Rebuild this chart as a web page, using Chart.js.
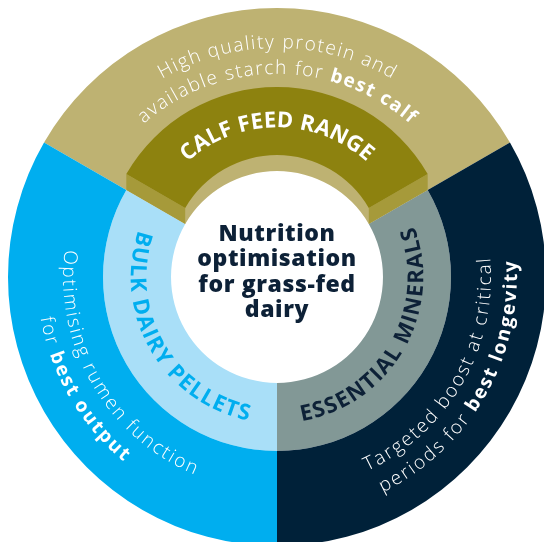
<!DOCTYPE html>
<html>
<head>
<meta charset="utf-8">
<script src="https://cdn.jsdelivr.net/npm/chart.js@4.4.1/dist/chart.umd.min.js"></script>
<style>
  html, body { margin: 0; padding: 0; background: #fff; overflow: hidden; }
  #wheel { position: absolute; left: 0; top: 0; }
</style>
</head>
<body>
<canvas id="wheel" width="554" height="554"></canvas>
<script>
// ---- data ----
const segments = ['Calf Feed Range', 'Essential Minerals', 'Bulk Dairy Pellets'];
const segmentShares = [1, 1, 1];
const ringLabels = ['CALF FEED RANGE', 'ESSENTIAL MINERALS', 'BULK DAIRY PELLETS'];
// each line is a list of [text, bold]
const benefitLine1 = [
    [['High quality protein and', 0]],
    [['Targeted boost at critical', 0]],
    [['Optimising rumen function', 0]]
];
const benefitLine2 = [
    [['available starch for ', 0], ['best calf', 1]],
    [['periods for ', 0], ['best longevity', 1]],
    [['for ', 0], ['best output', 1]]
];
const centreTitle = ['Nutrition', 'optimisation', 'for grass-fed', 'dairy'];

// ---- styles ----
const outerColours = ['#BEB272', '#002139', '#00AEEF'];
const innerColours = ['#BEB272', '#829896', '#A9DFF8'];
const faceColours = ['#8D820F', 'rgba(0,0,0,0)', 'rgba(0,0,0,0)'];
const sideColour = '#A69A3A';
const labelColours = ['#FFFFFF', '#0D2137', '#00AEEF'];
const navy = '#0D2137';
const FAMILY = '"Open Sans", sans-serif';
const lift = 16; // how far the calf feed block is raised

// draw text along a circle, char by char
function arcText(ctx, cx, cy, radius, mid, runs, size, inward, spacing) {
    const chars = [];
    runs.forEach(([txt, bold]) => {
        for (const ch of txt) chars.push({ch: ch, font: (bold ? '700 ' : '300 ') + size + 'px ' + FAMILY});
    });
    let total = 0;
    chars.forEach(c => { ctx.font = c.font; c.w = ctx.measureText(c.ch).width; total += c.w + spacing; });
    total -= spacing;
    const dir = inward ? -1 : 1;
    let a = mid - dir * total / 2 / radius;
    chars.forEach(c => {
        const ca = a + dir * c.w / 2 / radius;
        ctx.save();
        ctx.translate(cx + radius * Math.cos(ca), cy + radius * Math.sin(ca));
        ctx.rotate(ca + dir * Math.PI / 2);
        ctx.font = c.font;
        ctx.textAlign = 'center';
        ctx.textBaseline = 'middle';
        ctx.fillText(c.ch, 0, 0);
        ctx.restore();
        a += dir * (c.w + spacing) / radius;
    });
}

const wheelPlugin = {
    id: 'wheel',
    afterDatasetsUpdate(chart) {
        // raised face sits on the same radii as the middle ring, lifted up
        const base = chart.getDatasetMeta(1).data;
        chart.getDatasetMeta(2).data.forEach((arc, i) => {
            arc.innerRadius = base[i].innerRadius;
            arc.outerRadius = base[i].outerRadius;
            arc.y = base[i].y - lift;
        });
    },
    beforeDatasetDraw(chart, args) {
        if (args.index !== 2) return;
        const ctx = chart.ctx;
        const face = chart.getDatasetMeta(2).data[0];
        const baseY = chart.getDatasetMeta(1).data[0].y;
        ctx.save();
        ctx.fillStyle = sideColour;
        [face.startAngle, face.endAngle].forEach(a => {
            const c = Math.cos(a), s = Math.sin(a);
            ctx.beginPath();
            ctx.moveTo(face.x + face.outerRadius * c, face.y + face.outerRadius * s);
            ctx.lineTo(face.x + face.innerRadius * c, face.y + face.innerRadius * s);
            ctx.lineTo(face.x + face.innerRadius * c, baseY + face.innerRadius * s);
            ctx.lineTo(face.x + face.outerRadius * c, baseY + face.outerRadius * s);
            ctx.closePath();
            ctx.fill();
        });
        ctx.restore();
    },
    afterDatasetsDraw(chart) {
        const ctx = chart.ctx;
        const outer = chart.getDatasetMeta(0).data;
        const middle = chart.getDatasetMeta(1).data;
        const face = chart.getDatasetMeta(2).data;
        ctx.save();
        outer.forEach((arc, i) => {
            const mid = (arc.startAngle + arc.endAngle) / 2;
            const inward = Math.sin(mid) > 0;
            const rMid = (arc.innerRadius + arc.outerRadius) / 2;
            const gap = 13;
            ctx.fillStyle = '#FFFFFF';
            arcText(ctx, arc.x, arc.y, inward ? rMid - gap : rMid + gap, mid, benefitLine1[i], 19, inward, 1.8);
            arcText(ctx, arc.x, arc.y, inward ? rMid + gap : rMid - gap, mid, benefitLine2[i], 19, inward, 1.8);

            const ring = i === 0 ? face[i] : middle[i];
            const rr = (ring.innerRadius + ring.outerRadius) / 2;
            ctx.fillStyle = labelColours[i];
            arcText(ctx, ring.x, ring.y, rr, mid, [[ringLabels[i], 1]], 22, inward, 0.8);
        });

        // centre title
        const m = middle[0];
        ctx.fillStyle = navy;
        ctx.font = '800 23px ' + FAMILY;
        ctx.letterSpacing = '0.6px';
        ctx.textAlign = 'center';
        ctx.textBaseline = 'alphabetic';
        centreTitle.forEach((line, i) => {
            ctx.fillText(line, m.x, m.y + 2 + (i - 1.5) * 25.5);
        });
        ctx.restore();
    }
};

new Chart(document.getElementById('wheel'), {
    type: 'doughnut',
    data: {
        labels: segments,
        datasets: [
            {data: segmentShares, backgroundColor: outerColours, borderWidth: 0, hoverOffset: 0, weight: 95},
            {data: segmentShares, backgroundColor: innerColours, borderWidth: 0, hoverOffset: 0, weight: 68},
            {data: segmentShares, backgroundColor: faceColours, borderWidth: 0, hoverOffset: 0, weight: 0, order: -1}
        ]
    },
    options: {
        responsive: false,
        maintainAspectRatio: false,
        animation: false,
        events: [],
        rotation: -60,
        cutout: '39.4%',
        radius: 269,
        plugins: {
            legend: {display: false},
            tooltip: {enabled: false}
        }
    },
    plugins: [wheelPlugin]
});
</script>
</body>
</html>
